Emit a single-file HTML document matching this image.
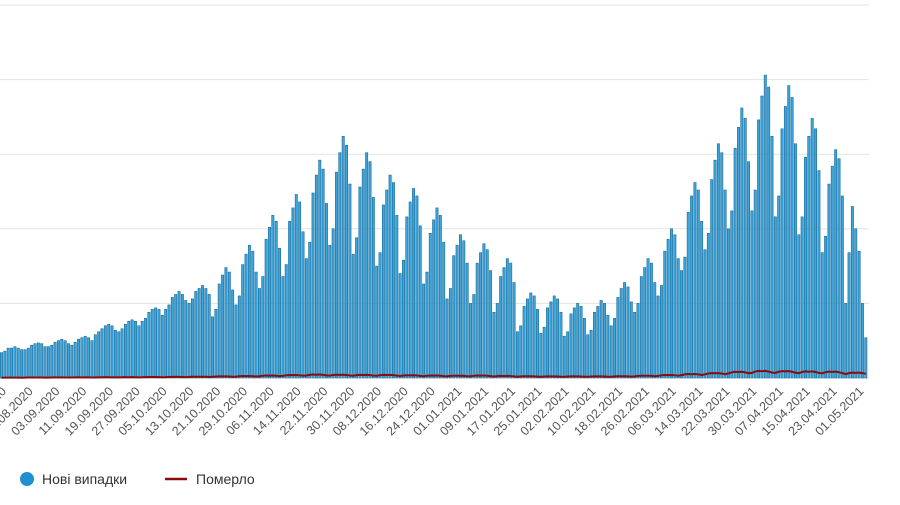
<!DOCTYPE html>
<html><head><meta charset="utf-8"><style>
html,body{margin:0;padding:0;background:#fff;}
svg{display:block;font-family:"Liberation Sans",sans-serif;}
</style></head><body>
<svg id="chart" width="900" height="505" viewBox="0 0 900 505">
<g id="grid"></g>
<g id="bars"></g>
<g id="deathsG"></g>
<g id="xlabels"></g>
<g>
<g>
<circle cx="27" cy="479" r="7" fill="#1f8fcf"></circle>
<text x="42" y="484" font-size="14" fill="#333">Нові випадки</text>
</g>
<g>
<line x1="165" y1="479" x2="187" y2="479" stroke="#8b0a0a" stroke-width="2.5"></line>
<text x="196" y="484" font-size="14" fill="#333">Померло</text>
</g>
</g>
</svg>
<script>
const gridValues = [0,5000,10000,15000,20000,25000];
const tickLabels = ["18.08.2020","26.08.2020","03.09.2020","11.09.2020","19.09.2020","27.09.2020","05.10.2020","13.10.2020","21.10.2020","29.10.2020","06.11.2020","14.11.2020","22.11.2020","30.11.2020","08.12.2020","16.12.2020","24.12.2020","01.01.2021","09.01.2021","17.01.2021","25.01.2021","02.02.2021","10.02.2021","18.02.2021","26.02.2021","06.03.2021","14.03.2021","22.03.2021","30.03.2021","07.04.2021","15.04.2021","23.04.2021","01.05.2021"];
const tickIndex = [1,9,17,25,33,41,49,57,65,73,81,89,97,105,113,121,129,137,145,153,161,169,177,185,193,201,209,217,225,233,241,249,257];
const newCases = [
1700,1800,2000,2000,2100,2000,1900,
1900,2000,2200,2300,2350,2300,2100,
2100,2200,2400,2500,2600,2500,2300,
2200,2400,2600,2700,2800,2700,2500,
2900,3100,3300,3500,3600,3500,3200,
3100,3300,3600,3800,3900,3800,3500,
3800,4000,4400,4600,4700,4600,4200,
4600,4900,5400,5600,5800,5600,5200,
5000,5300,5800,6000,6200,6000,5600,
4100,4600,6300,6900,7400,7100,5900,
4900,5500,7600,8300,8900,8500,7100,
6000,6800,9300,10100,10900,10500,8700,
6800,7600,10500,11400,12300,11800,9800,
8000,9100,12400,13600,14600,14000,11700,
8900,10000,13800,15100,16200,15600,13000,
8300,9400,12800,14000,15100,14500,12100,
7500,8400,11600,12600,13600,13100,10900,
7000,7900,10800,11800,12700,12200,10200,
6300,7100,9700,10600,11400,10900,9100,
5300,6000,8200,8900,9600,9200,7700,
5000,5600,7700,8400,9000,8600,7200,
4400,5000,6800,7400,8000,7700,6400,
3100,3500,4800,5300,5700,5500,4600,
3000,3400,4700,5100,5500,5300,4400,
2800,3100,4300,4700,5000,4800,4000,
2900,3200,4400,4800,5200,5000,4200,
3500,4000,5400,6000,6400,6100,5100,
4400,5000,6800,7400,8000,7700,6400,
5500,6200,8500,9300,10000,9600,8000,
7200,8100,11100,12200,13100,12600,10500,
8600,9700,13300,14600,15700,15100,12600,
10000,11200,15400,16800,18100,17400,14500,
11200,12600,17300,18900,20300,19500,16200,
10800,12200,16700,18200,19600,18800,15700,
9600,10800,14800,16200,17400,16700,13900,
8400,9500,13000,14200,15300,14700,12200,
5000,8400,11500,10000,8500,5000,2700];
const deaths = [
20,25,28,26,28,25,21,
24,30,33,32,33,30,26,
28,35,38,37,38,35,30,
32,40,44,42,44,40,34,
36,45,50,47,50,45,38,
40,50,55,52,55,50,43,
48,60,66,63,66,60,51,
56,70,77,74,77,70,60,
64,80,88,84,88,80,68,
80,100,110,105,110,100,85,
96,120,132,126,132,120,102,
120,150,165,158,165,150,128,
144,180,198,189,198,180,153,
168,210,231,220,231,210,179,
160,200,220,210,220,200,170,
152,190,209,200,209,190,162,
152,190,209,200,209,190,162,
136,170,187,178,187,170,145,
120,150,165,158,165,150,128,
112,140,154,147,154,140,119,
120,150,165,158,165,150,128,
104,130,143,136,143,130,110,
88,110,121,115,121,110,94,
80,100,110,105,110,100,85,
80,100,110,105,110,100,85,
80,100,110,105,110,100,85,
88,110,121,115,121,110,94,
112,140,154,147,154,140,119,
144,180,198,189,198,180,153,
192,240,264,252,264,240,204,
240,300,330,315,330,300,255,
304,380,418,399,418,380,323,
344,430,473,452,473,430,366,
336,420,462,441,462,420,357,
320,400,440,420,440,400,340,
312,390,429,410,429,390,332,
264,330,363,346,363,330,280];

const NS='http://www.w3.org/2000/svg';
const X0=1.5, STEP=3.35, BASE=378, PXPER=74.6/5000, BW=2.3;
function xs(i){return X0+i*STEP;}
function ys(v){return BASE - v*PXPER;}

const grid=document.getElementById('grid');
gridValues.forEach(v=>{
  const l=document.createElementNS(NS,'line');
  l.setAttribute('x1',0);l.setAttribute('x2',869);
  l.setAttribute('y1',ys(v));l.setAttribute('y2',ys(v));
  l.setAttribute('stroke',v===0?'#cfe3f0':'#e3e3e3');l.setAttribute('stroke-width',1);
  
  
  grid.appendChild(l);
});

const bars=document.getElementById('bars');
newCases.forEach((v,i)=>{
  const r=document.createElementNS(NS,'rect');
  const y=ys(v);
  r.setAttribute('x',(xs(i)-BW/2).toFixed(2));
  r.setAttribute('y',y.toFixed(2));
  r.setAttribute('width',BW);
  r.setAttribute('height',(BASE-y).toFixed(2));
  r.setAttribute('fill','#3aa6de');
  r.setAttribute('stroke','#1d6b98');
  r.setAttribute('stroke-width','0.6');
  
  
  bars.appendChild(r);
});

const dg=document.getElementById('deathsG');
const p=document.createElementNS(NS,'path');
p.setAttribute('d',deaths.map((v,i)=>(i?'L':'M')+xs(i).toFixed(2)+' '+ys(v).toFixed(2)).join(''));
p.setAttribute('fill','none');p.setAttribute('stroke','#8b0a0a');p.setAttribute('stroke-width','2');


dg.appendChild(p);

const xl=document.getElementById('xlabels');
tickLabels.forEach((t,k)=>{
  const x=xs(tickIndex[k])+2, y=392;
  const tx=document.createElementNS(NS,'text');
  tx.setAttribute('x',x);tx.setAttribute('y',y);
  tx.setAttribute('text-anchor','end');
  tx.setAttribute('font-size','12.5');
  tx.setAttribute('fill','#555');
  tx.setAttribute('transform','rotate(-45 '+x+' '+y+')');
  
  
  tx.textContent=t;
  xl.appendChild(tx);
});
</script>
</body></html>
